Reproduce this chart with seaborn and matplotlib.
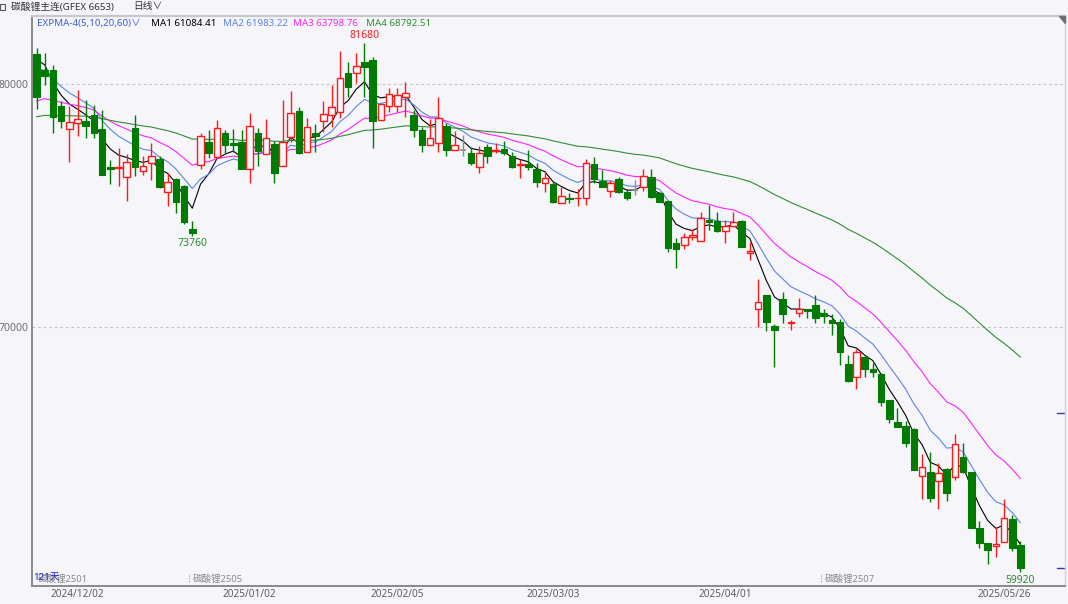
import numpy as np
import pandas as pd
import matplotlib
matplotlib.use('Agg')
import matplotlib.pyplot as plt
import seaborn as sns

# daily OHLC, 碳酸锂主连, 121 sessions
opens = [81235, 80576, 80576, 79095, 78136, 78383, 78477, 78724, 78148, 76597,
         76543, 76161, 78189, 76408, 76737, 76914, 75568, 76091, 75815, 74021,
         76667, 77626, 76984, 77971, 77560, 77626, 76490, 77996, 77120, 77531,
         76626, 77807, 78901, 77214, 77971, 78490, 78724, 78860, 80465, 80465,
         80905, 80988, 78519, 79095, 79095, 79453, 78724, 78107, 77490, 77585,
         78272, 77284, 77284, 77173, 76597, 77395, 77255, 77313, 77037, 76667,
         76708, 76490, 75939, 75885, 75090, 75310, 75297, 75325, 76696, 76021,
         75609, 76078, 75568, 75638, 75774, 76161, 75527, 75186, 73469, 73375,
         73692, 73552, 74404, 74375, 73964, 74157, 74363, 73033, 70741, 71317,
         70042, 71153, 70178, 70590, 70727, 70906, 70590, 70288, 70219, 68478,
         67956, 68753, 68260, 68054, 66997, 66079, 65927, 65791, 63882, 64047,
         63676, 64157, 63817, 64639, 64047, 61742, 61125, 61005, 61141, 62100,
         61030]
highs = [81481, 81288, 80782, 79300, 79095, 79753, 79342, 79136, 78930, 76873,
         77354, 77120, 78724, 77037, 77560, 77037, 76325, 76120, 75843, 74375,
         77996, 78107, 78519, 78107, 78136, 78107, 78819, 78177, 78547, 77667,
         79342, 79712, 79041, 78589, 78342, 79313, 79959, 81370, 80918, 81288,
         81680, 81123, 79177, 79823, 79823, 80095, 78930, 78243, 78547, 79453,
         78408, 78066, 77901, 77420, 77449, 77531, 77560, 77667, 77214, 76901,
         77284, 76762, 76432, 75980, 75774, 75527, 75667, 76901, 77009, 76461,
         76050, 76161, 75667, 76050, 76490, 76490, 75568, 75186, 73650, 73881,
         74021, 74745, 75021, 74745, 74404, 74745, 74404, 73511, 71963, 71317,
         70124, 71453, 70288, 71182, 70760, 71317, 70727, 70535, 70317, 68848,
         69083, 68807, 68507, 68095, 66997, 66655, 66145, 65833, 64775, 64870,
         64392, 64186, 65597, 65214, 64047, 62030, 61125, 61783, 62910, 62265,
         61207]
lows = [78971, 79959, 77984, 78189, 76803, 77860, 77766, 77766, 76255, 75885,
        75815, 75198, 76214, 76255, 76050, 75700, 74980, 74704, 74250, 73760,
        76490, 76943, 76950, 77148, 77214, 76490, 75914, 76626, 77120, 75939,
        76626, 77626, 77120, 77214, 77214, 78037, 78243, 78589, 79477, 80053,
        79477, 77354, 78519, 78860, 78860, 78634, 77832, 77214, 77490, 77214,
        77037, 77284, 77037, 76667, 76350, 76762, 77148, 77078, 76531, 76119,
        76461, 75749, 75568, 75090, 75090, 75090, 74980, 75021, 75914, 75749,
        75363, 75527, 75227, 75432, 75609, 75297, 75157, 73099, 72416, 73198,
        73581, 73552, 73992, 73923, 73469, 74130, 73280, 72757, 69988, 69836,
        68367, 70178, 69877, 70425, 70358, 70152, 70152, 69671, 68436, 67749,
        67437, 67931, 67931, 66750, 66062, 65873, 65075, 64116, 62923, 62787,
        62511, 62853, 63704, 63981, 61742, 60894, 60248, 60549, 61141, 60795,
        59920]
closes = [79477, 80329, 78630, 78490, 78449, 78547, 78272, 77971, 76255, 76490,
          76584, 76778, 76597, 76626, 77037, 75774, 75955, 75157, 74309, 73881,
          77860, 77148, 78177, 77490, 77490, 76490, 78288, 77255, 77766, 76350,
          77626, 78819, 77148, 78218, 77860, 78753, 79066, 80235, 79864, 80741,
          80687, 78490, 79177, 79589, 79547, 79617, 78107, 77490, 77766, 78589,
          77284, 77490, 77284, 76737, 77148, 77037, 77284, 77148, 76572, 76696,
          76597, 75980, 76119, 75157, 75391, 75280, 75325, 76762, 76078, 75749,
          75939, 75568, 75297, 75638, 76214, 75363, 75157, 73239, 73198, 73704,
          73786, 74474, 74334, 73964, 74157, 74334, 73280, 73140, 71017, 70219,
          69877, 70535, 70219, 70727, 70658, 70358, 70453, 70152, 68984, 67791,
          68960, 68260, 68161, 66902, 66215, 65898, 65240, 64116, 64253, 62978,
          63981, 63157, 65186, 64047, 61742, 61125, 60824, 61058, 62128, 60919,
          60071]

# EXPMA periods and their values at the first session
ema_periods = [5, 10, 20, 60]
ema_start = [81016, 80617, 79300, 78655]
ema_colors = ['#000000', '#5A86E6', '#FF22FF', '#2F8F2F']
ma_labels = ['MA1 61084.41', 'MA2 61983.22', 'MA3 63798.76', 'MA4 68792.51']

tick_idx = [5, 26, 44, 63, 84, 118]
tick_labels = ['2024/12/02', '2025/01/02', '2025/02/05', '2025/03/03', '2025/04/01', '2025/05/26']
y_ticks = [70000, 80000]

BG = '#F5F5FA'
RED = '#FF1A1A'
GREEN = '#007A00'

sns.set_style('white')
plt.rcParams['font.family'] = ['Noto Sans', 'Noto Sans CJK SC', 'DejaVu Sans']
plt.rcParams['axes.unicode_minus'] = False

df = pd.DataFrame({'idx': np.arange(len(closes)), 'open': opens, 'high': highs,
                   'low': lows, 'close': closes})
for p, s0 in zip(ema_periods, ema_start):
    src = pd.Series([s0] + closes[1:], dtype=float)
    df[f'ema{p}'] = src.ewm(span=p, adjust=False).mean().values

W, H = 1068, 604
fig = plt.figure(figsize=(W / 100, H / 100), dpi=100, facecolor=BG)
ax = fig.add_axes([32 / W, 18 / H, (1065 - 32) / W, (586 - 16) / H], facecolor=BG)

# y scale: 243 px per 10000
ppu = 243 / 10000
ax.set_ylim(80000 - (586 - 84) / ppu, 80000 + (84 - 16) / ppu)
ax.set_xlim(-0.55, 125.43)

for y in y_ticks:
    ax.axhline(y, color='#C4C4C8', lw=0.8, ls=(0, (2.5, 2.5)), zorder=0)

# moving averages
for p, c in zip(ema_periods, ema_colors):
    sns.lineplot(data=df, x='idx', y=f'ema{p}', color=c, lw=0.8, ax=ax, zorder=2)

# candles
bw = 0.8
for r in df.itertuples():
    o, h, l, c = r.open, r.high, r.low, r.close
    top, bot = max(o, c), min(o, c)
    if c > o:
        col = RED
        ax.bar(r.idx, top - bot, bottom=bot, width=bw, facecolor=BG,
               edgecolor=col, lw=1.0, zorder=3)
    elif c < o:
        col = GREEN
        ax.bar(r.idx, top - bot, bottom=bot, width=bw, facecolor=col,
               edgecolor=col, lw=0.8, zorder=3)
    else:
        col = '#8C8C8C'
        ax.hlines(o, r.idx - bw / 2, r.idx + bw / 2, color=col, lw=1.2, zorder=3)
    ax.vlines(r.idx, top, h, color=col, lw=1.0, zorder=3)
    ax.vlines(r.idx, l, bot, color=col, lw=1.0, zorder=3)

# high / low marks
i_hi = int(np.argmax(highs))
ax.annotate(f'{highs[i_hi]}', (i_hi, highs[i_hi]), xytext=(0, 1.5), textcoords='offset points',
            ha='center', va='bottom', color='#FF1A1A', fontsize=7.5)
i_lo1 = int(np.argmin(lows[:40]))
ax.annotate(f'{lows[i_lo1]}', (i_lo1, lows[i_lo1]), xytext=(0, -1.5), textcoords='offset points',
            ha='center', va='top', color='#2E8B2E', fontsize=7.5)
i_lo = int(np.argmin(lows))
ax.annotate(f'{lows[i_lo]}', (i_lo, lows[i_lo]), xytext=(0, -2), textcoords='offset points',
            ha='center', va='top', color='#2E8B2E', fontsize=7.5)

# axes cosmetics
ax.set_xticks(tick_idx)
ax.set_xticklabels(tick_labels, fontsize=7.2, color='#5E5E5E')
ax.set_yticks(y_ticks)
ax.set_yticklabels([str(v) for v in y_ticks], fontsize=7.5, color='#707070')
ax.tick_params(axis='both', length=0, pad=2.5)
ax.set_xlabel('')
ax.set_ylabel('')
for side in ['left', 'bottom']:
    ax.spines[side].set_color('#8A8A8A')
    ax.spines[side].set_linewidth(1.4)
ax.spines['top'].set_color('#C8C8CC')
ax.spines['top'].set_linewidth(1.6)
ax.spines['right'].set_color('#D2D2D6')
ax.spines['right'].set_linewidth(1.0)

# corner mark and right-edge markers
ax.fill([0.9945, 1.0, 1.0], [1.0, 1.0, 0.988], transform=ax.transAxes,
        color='#6E6E6E', zorder=5, clip_on=False)
for y in [66460, 60080]:
    ax.axhline(y, xmin=0.9925, xmax=1.0, color='#3434C0', lw=1.0)

# contract labels along the bottom
for xp, s in [(193, '碳酸锂2505'), (825, '碳酸锂2507')]:
    fig.text(xp / W, 1 - 579 / H, s, fontsize=6.8, color='#8A8A8A', va='center')
    fig.lines.append(plt.Line2D([(xp - 4) / W] * 2, [1 - 575 / H, 1 - 583 / H],
                                transform=fig.transFigure, color='#9A9A9A', lw=0.8,
                                ls=(0, (1, 1.5))))
fig.text(38 / W, 1 - 579 / H, '碳酸锂2501', fontsize=6.8, color='#8A8A8A', va='center')
fig.text(33 / W, 1 - 578 / H, '121天', fontsize=7, color='#2020C8', va='center')

# header
fig.patches.append(plt.Rectangle((0, 1 - 10 / H), 4.5 / W, 6 / H, transform=fig.transFigure,
                                 fill=False, edgecolor='#555555', lw=0.8))
fig.text(11 / W, 1 - 7 / H, '碳酸锂主连(GFEX 6653)', fontsize=7, color='#333333', va='center')
fig.text(133 / W, 1 - 7 / H, '日线∨', fontsize=7, color='#333333', va='center')

fig.text(37 / W, 1 - 23.5 / H, 'EXPMA-4(5,10,20,60)∨', fontsize=7, color='#3D5FD8', va='center')
for xp, s, c in zip([151, 223, 293, 366], ma_labels, ema_colors):
    fig.text(xp / W, 1 - 23.5 / H, s, fontsize=7, color=c, va='center')

fig.savefig('out.png', dpi=100, facecolor=BG)
plt.close(fig)
